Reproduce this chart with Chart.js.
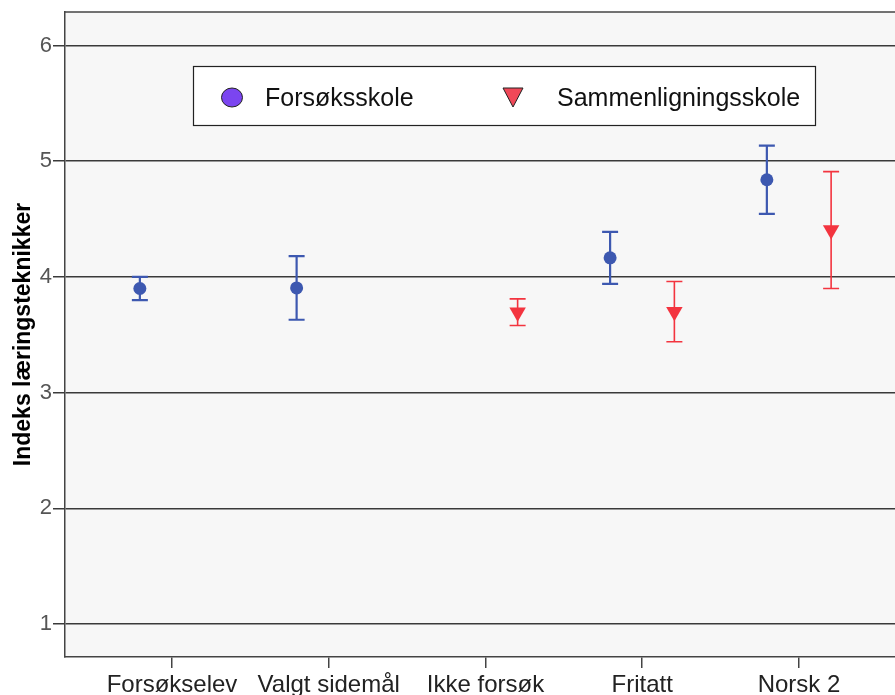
<!DOCTYPE html>
<html>
<head>
<meta charset="utf-8">
<script src="https://cdn.jsdelivr.net/npm/chart.js@4/dist/chart.umd.min.js"></script>
<style>
  html, body { margin: 0; padding: 0; background: #ffffff; }
  #wrap { width: 895px; height: 695px; overflow: hidden; }
</style>
</head>
<body>
<div id="wrap"><canvas id="chart" width="895" height="695"></canvas></div>
<script>
const categories = ['Forsøkselev', 'Valgt sidemål', 'Ikke forsøk', 'Fritatt', 'Norsk 2'];
const yTicks = [1, 2, 3, 4, 5, 6];

// Forsøksskole: mean with 95% interval
const forsokMean = [3.90, 3.905, null, 4.165, 4.84];
const forsokLow  = [3.80, 3.63,  null, 3.94,  4.545];
const forsokHigh = [4.00, 4.18,  null, 4.39,  5.135];

// Sammenligningsskole: mean with 95% interval
const sammenMean = [null, null, 3.695, 3.70, 4.405];
const sammenLow  = [null, null, 3.58,  3.44, 3.90];
const sammenHigh = [null, null, 3.81,  3.96, 4.91];

const BLUE = '#3d58b0';
const RED = '#f3343f';
const FONT = '"Liberation Sans", Arial, sans-serif';

function toPoints(mean, low, high, shift) {
  const pts = [];
  mean.forEach((m, i) => {
    if (m === null) return;
    pts.push({ x: i + 1 + shift, y: m, low: low[i], high: high[i] });
  });
  return pts;
}

// plot background + top frame line
const plotFrame = {
  id: 'plotFrame',
  beforeDraw(chart) {
    const { ctx, chartArea: a } = chart;
    ctx.save();
    ctx.fillStyle = '#f7f7f7';
    ctx.fillRect(a.left, a.top, a.right - a.left, a.bottom - a.top);
    ctx.strokeStyle = '#444';
    ctx.lineWidth = 1.5;
    ctx.beginPath();
    ctx.moveTo(a.left, a.top);
    ctx.lineTo(a.right, a.top);
    ctx.stroke();
    ctx.restore();
  }
};

// whiskers drawn under the markers
const errorBars = {
  id: 'errorBars',
  beforeDatasetsDraw(chart) {
    const { ctx, scales: { x, y } } = chart;
    ctx.save();
    chart.data.datasets.forEach(ds => {
      ctx.strokeStyle = ds.borderColor;
      ctx.lineWidth = ds.whiskerWidth;
      ds.data.forEach(p => {
        const px = x.getPixelForValue(p.x);
        const top = y.getPixelForValue(p.high);
        const bot = y.getPixelForValue(p.low);
        ctx.beginPath();
        ctx.moveTo(px, top); ctx.lineTo(px, bot);
        ctx.moveTo(px - 8, top); ctx.lineTo(px + 8, top);
        ctx.moveTo(px - 8, bot); ctx.lineTo(px + 8, bot);
        ctx.stroke();
      });
    });
    ctx.restore();
  }
};

// boxed legend inside the plot
const boxLegend = {
  id: 'boxLegend',
  afterDraw(chart) {
    const { ctx } = chart;
    const ds = chart.data.datasets;
    ctx.save();
    ctx.fillStyle = '#ffffff';
    ctx.fillRect(193, 66, 623, 60);
    ctx.strokeStyle = '#222';
    ctx.lineWidth = 1.2;
    ctx.strokeRect(193.5, 66.5, 622, 59);

    // circle
    ctx.beginPath();
    ctx.ellipse(232, 97.5, 10.5, 9.5, 0, 0, Math.PI * 2);
    ctx.fillStyle = '#7b45f0';
    ctx.fill();
    ctx.strokeStyle = '#222';
    ctx.lineWidth = 1;
    ctx.stroke();

    // down triangle
    ctx.beginPath();
    ctx.moveTo(503, 88);
    ctx.lineTo(523, 88);
    ctx.lineTo(513, 107);
    ctx.closePath();
    ctx.fillStyle = '#f04858';
    ctx.fill();
    ctx.stroke();

    ctx.fillStyle = '#111';
    ctx.font = '25px ' + FONT;
    ctx.textBaseline = 'alphabetic';
    ctx.textAlign = 'left';
    ctx.fillText(ds[0].label, 265, 106);
    ctx.fillText(ds[1].label, 557, 106);
    ctx.restore();
  }
};

new Chart(document.getElementById('chart'), {
  type: 'scatter',
  data: {
    datasets: [
      {
        label: 'Forsøksskole',
        data: toPoints(forsokMean, forsokLow, forsokHigh, -0.205),
        backgroundColor: BLUE,
        borderColor: BLUE,
        pointStyle: 'circle',
        pointRadius: 6.5,
        pointBorderWidth: 0,
        whiskerWidth: 2.2
      },
      {
        label: 'Sammenligningsskole',
        data: toPoints(sammenMean, sammenLow, sammenHigh, 0.205),
        backgroundColor: RED,
        borderColor: RED,
        pointStyle: 'triangle',
        rotation: 180,
        pointRadius: 9.5,
        pointBorderWidth: 0,
        whiskerWidth: 1.6
      }
    ]
  },
  options: {
    responsive: false,
    animation: false,
    layout: {
      autoPadding: false,
      padding: { top: 12, left: 0, right: 0, bottom: 0 }
    },
    plugins: {
      legend: { display: false },
      tooltip: { enabled: false }
    },
    scales: {
      x: {
        type: 'linear',
        min: 0.3174,
        max: 5.6125,
        afterBuildTicks(scale) {
          scale.ticks = categories.map((c, i) => ({ value: i + 1 }));
        },
        afterFit(scale) {
          scale.height = 38;
          scale.paddingLeft = 0;
          scale.paddingRight = 0;
        },
        ticks: {
          autoSkip: false,
          maxRotation: 0,
          padding: 3,
          color: '#222',
          font: { family: FONT, size: 24 },
          callback: v => categories[v - 1]
        },
        grid: {
          drawOnChartArea: false,
          drawTicks: true,
          tickLength: 11,
          color: '#444',
          lineWidth: 1.5
        },
        border: { display: true, color: '#444', width: 1.5 }
      },
      y: {
        min: 0.715,
        max: 6.29,
        afterBuildTicks(scale) {
          scale.ticks = yTicks.map(v => ({ value: v }));
        },
        afterFit(scale) {
          scale.width = 65;
          scale.paddingTop = 0;
          scale.paddingBottom = 0;
        },
        ticks: {
          padding: 1,
          color: '#555',
          font: { family: FONT, size: 22 }
        },
        grid: {
          color: '#3a3a3a',
          lineWidth: 1.5,
          tickLength: 12
        },
        border: { display: true, color: '#444', width: 1.5 },
        title: {
          display: true,
          text: 'Indeks læringsteknikker',
          color: '#000',
          padding: { top: 10, bottom: 0 },
          font: { family: FONT, size: 23, weight: 'bold' }
        }
      }
    }
  },
  plugins: [plotFrame, errorBars, boxLegend]
});
</script>
</body>
</html>
